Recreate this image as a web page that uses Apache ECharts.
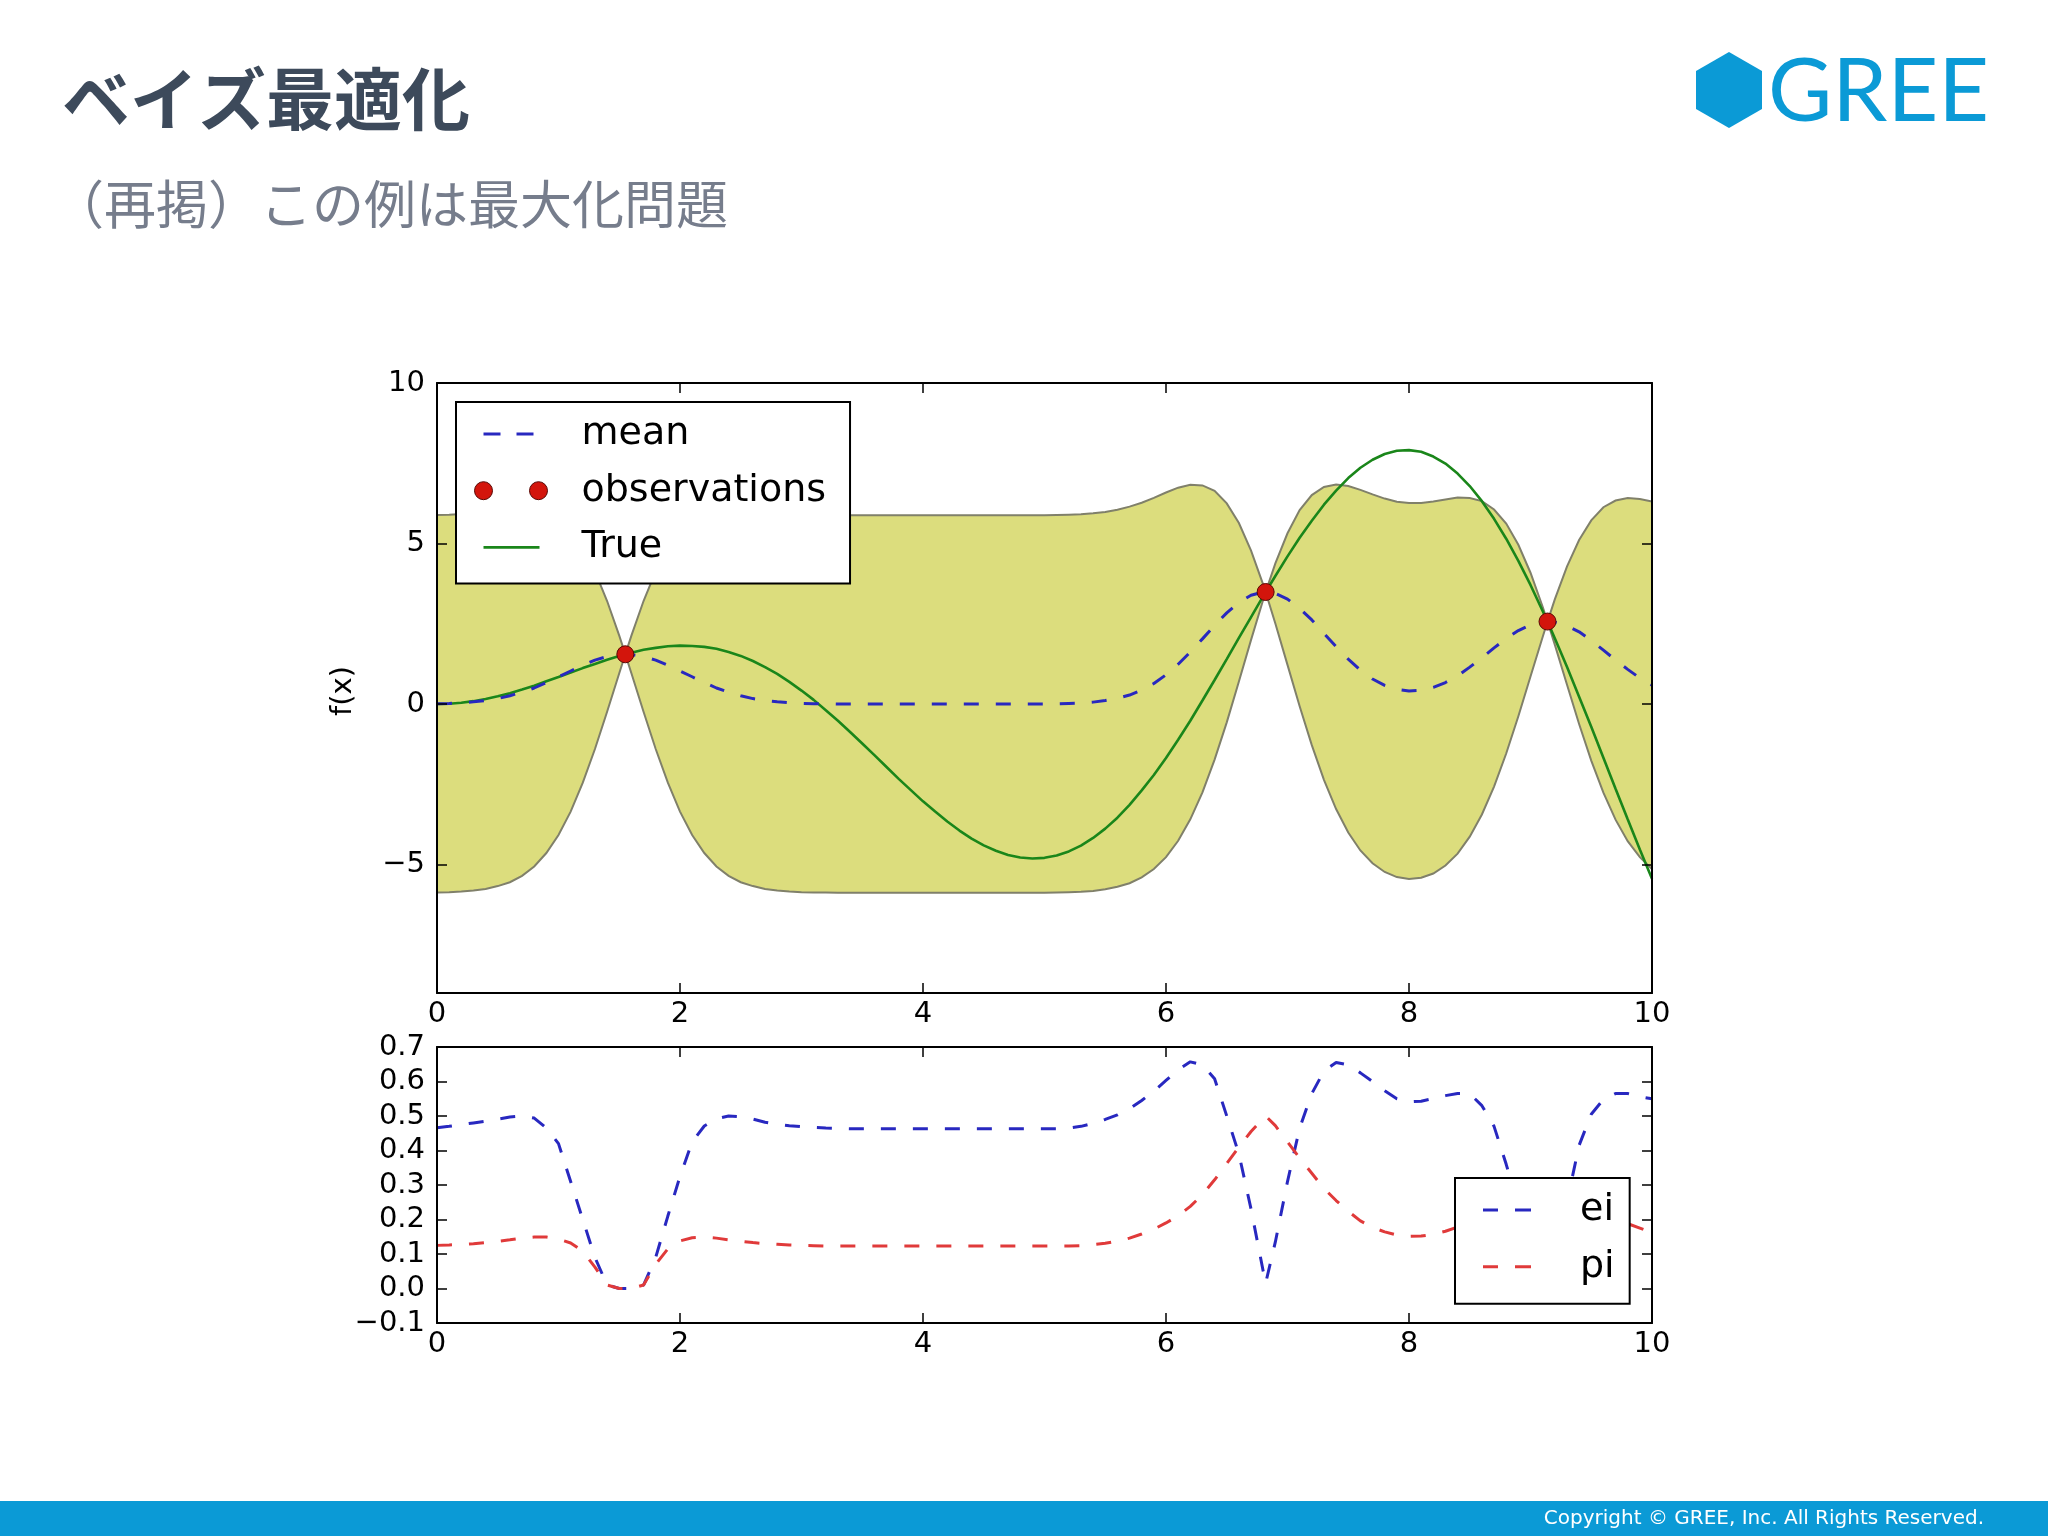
<!DOCTYPE html>
<html>
<head>
<meta charset="utf-8">
<script src="https://cdn.jsdelivr.net/npm/echarts@6/dist/echarts.min.js"></script>
<style>
html,body{margin:0;padding:0;background:#ffffff;}
#chart{width:2048px;height:1536px;}
</style>
</head>
<body>
<div id="chart"></div>
<script>
// ---------- data ----------
const xs = [
  0,0.1,0.2,0.3,0.4,0.5,0.6,0.7,0.8,0.9,1.0,1.1,1.2,1.3,1.4,1.5,
  1.55,
  1.6,1.7,1.8,1.9,2.0,2.1,2.2,2.3,2.4,2.5,2.6,2.7,2.8,2.9,3.0,
  3.1,3.2,3.3,3.4,3.5,3.6,3.7,3.8,3.9,4.0,4.1,4.2,4.3,4.4,4.5,4.6,4.7,4.8,4.9,
  5.0,5.1,5.2,5.3,5.4,5.5,5.6,5.7,5.8,5.9,6.0,6.1,6.2,6.3,6.4,6.5,6.6,6.7,6.8,
  6.82,
  6.9,7.0,7.1,7.2,7.3,7.4,7.5,7.6,7.7,7.8,7.9,8.0,8.1,8.2,8.3,8.4,8.5,8.6,8.7,8.8,8.9,9.0,9.1,
  9.14,
  9.2,9.3,9.4,9.5,9.6,9.7,9.8,9.9,10.0
];
const trueVals = [
  0,0.01,0.04,0.09,0.16,0.24,0.34,0.45,0.57,0.71,0.84,0.98,1.12,1.25,1.38,1.50,
  1.55,
  1.60,1.69,1.75,1.80,1.82,1.81,1.78,1.72,1.62,1.50,1.34,1.15,0.94,0.69,0.42,
  0.13,-0.19,-0.52,-0.87,-1.23,-1.59,-1.96,-2.33,-2.68,-3.03,-3.35,-3.66,-3.94,-4.19,-4.40,-4.57,-4.70,-4.78,-4.81,
  -4.79,-4.72,-4.59,-4.41,-4.17,-3.88,-3.54,-3.14,-2.69,-2.21,-1.68,-1.11,-0.52,0.11,0.75,1.40,2.06,2.71,3.36,
  3.49,
  3.99,4.60,5.18,5.71,6.21,6.65,7.04,7.36,7.61,7.79,7.89,7.91,7.86,7.71,7.49,7.18,6.79,6.32,5.77,5.15,4.46,3.71,2.90,
  2.57,
  2.05,1.16,0.23,-0.71,-1.67,-2.64,-3.59,-4.53,-5.44
];
const meanVals = [
  0.01,0.02,0.04,0.07,0.11,0.17,0.26,0.37,0.50,0.67,0.85,1.03,1.21,1.37,1.48,1.54,
  1.55,
  1.54,1.48,1.37,1.21,1.03,0.85,0.67,0.50,0.37,0.26,0.17,0.11,0.07,0.04,0.02,
  0.01,0.01,0,0,0,0,0,0,0,0,0,0,0,0,0,0,0,0,0,
  0,0.01,0.02,0.03,0.06,0.11,0.18,0.28,0.44,0.64,0.91,1.24,1.62,2.03,2.45,2.84,3.17,3.39,3.49,
  3.49,
  3.45,3.27,2.98,2.62,2.20,1.79,1.40,1.06,0.78,0.58,0.46,0.41,0.43,0.52,0.67,0.88,1.15,1.44,1.75,2.04,2.29,2.47,2.56,
  2.57,
  2.55,2.44,2.25,1.98,1.68,1.37,1.08,0.81,0.59
];
const upperVals = [
  5.89,5.90,5.92,5.94,5.98,6.02,6.06,6.08,6.06,5.98,5.77,5.42,4.87,4.13,3.21,2.13,
  1.55,
  2.13,3.21,4.13,4.87,5.42,5.77,5.98,6.06,6.08,6.06,6.02,5.98,5.94,5.92,5.90,
  5.89,5.89,5.88,5.88,5.88,5.88,5.88,5.88,5.88,5.88,5.88,5.88,5.88,5.88,5.88,5.88,5.88,5.88,5.88,
  5.88,5.89,5.90,5.91,5.94,5.98,6.05,6.15,6.27,6.42,6.59,6.74,6.83,6.81,6.64,6.25,5.64,4.78,3.72,
  3.49,
  4.38,5.32,6.04,6.51,6.76,6.84,6.79,6.67,6.53,6.40,6.30,6.26,6.26,6.31,6.37,6.43,6.42,6.32,6.06,5.62,4.96,4.09,3.03,
  2.57,
  3.26,4.28,5.11,5.72,6.13,6.34,6.42,6.39,6.31
];
const lowerVals = [
  -5.87,-5.86,-5.84,-5.81,-5.76,-5.67,-5.55,-5.35,-5.06,-4.64,-4.08,-3.35,-2.45,-1.40,-0.24,0.96,
  1.55,
  0.96,-0.24,-1.40,-2.45,-3.35,-4.08,-4.64,-5.06,-5.35,-5.55,-5.67,-5.76,-5.81,-5.84,-5.86,
  -5.87,-5.87,-5.88,-5.88,-5.88,-5.88,-5.88,-5.88,-5.88,-5.88,-5.88,-5.88,-5.88,-5.88,-5.88,-5.88,-5.88,-5.88,-5.88,
  -5.88,-5.87,-5.86,-5.85,-5.82,-5.77,-5.69,-5.58,-5.40,-5.14,-4.77,-4.26,-3.59,-2.75,-1.73,-0.57,0.70,2.00,3.25,
  3.49,
  2.51,1.22,-0.07,-1.28,-2.36,-3.27,-4.00,-4.56,-4.96,-5.23,-5.39,-5.45,-5.41,-5.28,-5.03,-4.66,-4.13,-3.44,-2.57,-1.54,-0.38,0.86,2.09,
  2.57,
  1.85,0.61,-0.62,-1.76,-2.76,-3.60,-4.27,-4.77,-5.14
];
const eiVals = [
  0.466,0.470,0.475,0.480,0.485,0.491,0.497,0.500,0.494,0.465,0.420,0.310,0.200,0.090,0.010,0.000,
  0.000,
  0.000,0.010,0.090,0.210,0.325,0.425,0.471,0.492,0.500,0.498,0.491,0.482,0.476,0.472,0.469,
  0.467,0.465,0.464,0.463,0.463,0.463,0.463,0.463,0.463,0.463,0.463,0.463,0.463,0.463,0.463,0.463,0.463,0.463,0.463,
  0.463,0.463,0.465,0.470,0.479,0.490,0.503,0.521,0.545,0.572,0.603,0.634,0.657,0.648,0.608,0.500,0.390,0.230,0.050,
  0.015,
  0.135,0.310,0.465,0.565,0.630,0.655,0.648,0.625,0.600,0.573,0.550,0.541,0.543,0.551,0.559,0.565,0.565,0.530,0.470,0.360,0.240,0.120,0.030,
  0.000,
  0.070,0.250,0.415,0.505,0.548,0.565,0.565,0.556,0.550
];
const piVals = [
  0.125,0.126,0.128,0.130,0.133,0.137,0.141,0.146,0.149,0.149,0.143,0.132,0.108,0.062,0.010,0.000,
  0.000,
  0.000,0.010,0.070,0.115,0.138,0.147,0.149,0.146,0.141,0.137,0.133,0.130,0.128,0.126,0.125,
  0.124,0.123,0.123,0.123,0.123,0.123,0.123,0.123,0.123,0.123,0.123,0.123,0.123,0.123,0.123,0.123,0.123,0.123,0.123,
  0.123,0.123,0.123,0.124,0.127,0.131,0.137,0.146,0.158,0.172,0.190,0.211,0.238,0.272,0.315,0.362,0.410,0.455,0.493,
  0.500,
  0.472,0.425,0.378,0.334,0.290,0.255,0.224,0.196,0.177,0.164,0.155,0.151,0.152,0.157,0.166,0.178,0.192,0.205,0.214,0.214,0.189,0.108,0.000,
  0.000,
  0.005,0.131,0.197,0.215,0.213,0.202,0.188,0.175,0.162
];
const obsX = [1.55, 6.82, 9.14];
const obsY = [1.55, 3.49, 2.57];

const xTicks = [0, 2, 4, 6, 8, 10];
const yTicksTop = [-5, 0, 5, 10];
const yTicksBottom = [-0.1, 0, 0.1, 0.2, 0.3, 0.4, 0.5, 0.6, 0.7];

// ---------- styling ----------
const BLUE = '#2828c0';
const RED = '#e03a3a';
const GREEN = '#1a861a';
const FILL = '#dcdd7d';
const EDGE = '#80806a';
const FONT = 'DejaVu Sans';

function fmt(v, d) {
  return (v < -1e-9 ? '\u2212' : '') + Math.abs(v).toFixed(d);
}
function xAx(grid, pos, show) {
  return {
    type: 'value', gridIndex: grid, position: pos, min: 0, max: 10, interval: 2, z: 10,
    axisLine: { onZero: false, lineStyle: { color: '#000', width: 2 } },
    axisTick: { inside: true, length: 10, customValues: xTicks, lineStyle: { color: '#000', width: 1.5 } },
    axisLabel: { show: show, margin: 7, fontSize: 29, fontFamily: FONT, color: '#000',
      customValues: xTicks, formatter: v => fmt(v, 0), showMinLabel: true, showMaxLabel: true },
    splitLine: { show: false }
  };
}
function yAx(grid, pos, show, mn, mx, ticks, dec) {
  return {
    type: 'value', gridIndex: grid, position: pos, min: mn, max: mx, z: 10,
    axisLine: { onZero: false, lineStyle: { color: '#000', width: 2 } },
    axisTick: { inside: true, length: 10, customValues: ticks, lineStyle: { color: '#000', width: 1.5 } },
    axisLabel: { show: show, margin: 12, fontSize: 29, fontFamily: FONT, color: '#000',
      customValues: ticks, formatter: v => fmt(v, dec) },
    splitLine: { show: false }
  };
}

const speck = 'M0,0h0.01v0.01h-0.01z M72.99,17.99h0.01v0.01h-0.01z ';
const meanIcon = 'path://' + speck + 'M9,7.6h17v2.8h-17z M42,7.6h17v2.8h-17z';
const trueIcon = 'path://' + speck + 'M9,7.7h56v2.6h-56z';
const obsIcon = 'path://M0,9a9,9 0 1,0 18,0a9,9 0 1,0 -18,0z M55,9a9,9 0 1,0 18,0a9,9 0 1,0 -18,0z';
const dashIcon = 'path://M0,0h0.01v0.01h-0.01z M48.99,17.99h0.01v0.01h-0.01z M0,7.5h15v3h-15z M32,7.5h16v3h-16z';

const chart = echarts.init(document.getElementById('chart'), null, { renderer: 'canvas', width: 2048, height: 1536 });

const option = {
  animation: false,
  backgroundColor: '#ffffff',
  textStyle: { fontFamily: FONT },
  grid: [
    { left: 437, top: 383, width: 1215, height: 610 },
    { left: 437, top: 1047, width: 1215, height: 276 }
  ],
  xAxis: [xAx(0, 'bottom', true), xAx(0, 'top', false), xAx(1, 'bottom', true), xAx(1, 'top', false)],
  yAxis: [
    yAx(0, 'left', true, -9, 10, yTicksTop, 0),
    yAx(0, 'right', false, -9, 10, yTicksTop, 0),
    yAx(1, 'left', true, -0.1, 0.7, yTicksBottom, 1),
    yAx(1, 'right', false, -0.1, 0.7, yTicksBottom, 1)
  ],
  legend: [
    {
      left: 456, top: 402, orient: 'vertical', selectedMode: false,
      padding: [12, 24, 16, 18], itemGap: 16.7, itemWidth: 73, itemHeight: 18,
      backgroundColor: '#ffffff', borderColor: '#000', borderWidth: 2, borderRadius: 0,
      textStyle: { fontFamily: FONT, fontSize: 38, color: '#000', lineHeight: 40, padding: [0, 0, 0, 29] },
      data: [
        { name: 'mean', icon: meanIcon, itemStyle: { color: BLUE, borderWidth: 0 } },
        { name: 'observations', icon: obsIcon, itemStyle: { color: '#d3150c', borderColor: '#5a0804', borderWidth: 1 } },
        { name: 'True', icon: trueIcon, itemStyle: { color: GREEN, borderWidth: 0 } }
      ]
    },
    {
      left: 1455, top: 1178, orient: 'vertical', selectedMode: false,
      padding: [12, 15, 17, 28], itemGap: 16.7, itemWidth: 49, itemHeight: 18,
      backgroundColor: '#ffffff', borderColor: '#000', borderWidth: 2, borderRadius: 0,
      textStyle: { fontFamily: FONT, fontSize: 38, color: '#000', lineHeight: 40, padding: [0, 0, 0, 43] },
      data: [
        { name: 'ei', icon: dashIcon, itemStyle: { color: BLUE, borderWidth: 0 } },
        { name: 'pi', icon: dashIcon, itemStyle: { color: RED, borderWidth: 0 } }
      ]
    }
  ],
  series: [
    {
      type: 'custom', name: 'band', xAxisIndex: 0, yAxisIndex: 0, z: 1, silent: true, clip: true,
      data: xs.map((x, i) => [x, lowerVals[i], upperVals[i]]),
      encode: { x: 0, y: [1, 2] },
      renderItem: function (params, api) {
        if (params.dataIndex !== 0) return null;
        const pts = [];
        for (let i = 0; i < xs.length; i++) pts.push(api.coord([xs[i], upperVals[i]]));
        for (let i = xs.length - 1; i >= 0; i--) pts.push(api.coord([xs[i], lowerVals[i]]));
        return { type: 'polygon', shape: { points: pts }, style: { fill: FILL, stroke: EDGE, lineWidth: 2 } };
      }
    },
    {
      type: 'line', name: 'True', xAxisIndex: 0, yAxisIndex: 0, z: 3, symbol: 'none',
      data: xs.map((x, i) => [x, trueVals[i]]),
      lineStyle: { color: GREEN, width: 2.6 }, itemStyle: { color: GREEN }
    },
    {
      type: 'line', name: 'mean', xAxisIndex: 0, yAxisIndex: 0, z: 4, symbol: 'none',
      data: xs.map((x, i) => [x, meanVals[i]]),
      lineStyle: { color: BLUE, width: 3, type: [15, 17] }, itemStyle: { color: BLUE }
    },
    {
      type: 'scatter', name: 'observations', xAxisIndex: 0, yAxisIndex: 0, z: 5,
      data: obsX.map((x, i) => [x, obsY[i]]), symbolSize: 17,
      itemStyle: { color: '#d3150c', borderColor: '#5a0804', borderWidth: 1, opacity: 1 }
    },
    {
      type: 'line', name: 'ei', xAxisIndex: 2, yAxisIndex: 2, z: 3, symbol: 'none',
      data: xs.map((x, i) => [x, eiVals[i]]),
      lineStyle: { color: BLUE, width: 3, type: [15, 17] }, itemStyle: { color: BLUE }
    },
    {
      type: 'line', name: 'pi', xAxisIndex: 2, yAxisIndex: 2, z: 3, symbol: 'none',
      data: xs.map((x, i) => [x, piVals[i]]),
      lineStyle: { color: RED, width: 3, type: [15, 17] }, itemStyle: { color: RED }
    }
  ],
  graphic: [
    { type: 'text', x: 62, y: 99, z: 100,
      style: { text: 'ベイズ最適化', fontSize: 68, fontWeight: 'bold', fontFamily: 'Noto Sans CJK JP',
        fill: '#3d4a5b', verticalAlign: 'middle', align: 'left' } },
    { type: 'text', x: 52, y: 204, z: 100,
      style: { text: '（再掲）この例は最大化問題', fontSize: 52, fontFamily: 'Noto Sans CJK JP',
        fill: '#767d8c', verticalAlign: 'middle', align: 'left' } },
    { type: 'polygon', z: 100,
      shape: { points: [[1729, 52], [1762, 71], [1762, 109], [1729, 128], [1696, 109], [1696, 71]] },
      style: { fill: '#0b9ad6' } },
    { type: 'text', x: 1768, y: 93, z: 100,
      style: { text: 'GREE', fontSize: 88, fontFamily: 'Lato', fill: '#0b9ad6', verticalAlign: 'middle', align: 'left' } },
    { type: 'text', x: 343, y: 691, rotation: Math.PI / 2, z: 100,
      style: { text: 'f(x)', fontSize: 29, fontFamily: FONT, fill: '#000', align: 'center', verticalAlign: 'middle' } },
    { type: 'rect', z: 100, shape: { x: 0, y: 1501, width: 2048, height: 35 }, style: { fill: '#0b9ad6' } },
    { type: 'text', x: 1984, y: 1519, z: 101,
      style: { text: 'Copyright © GREE, Inc. All Rights Reserved.', fontSize: 20, fontFamily: FONT,
        fill: '#ffffff', align: 'right', verticalAlign: 'middle' } }
  ]
};
chart.setOption(option);
</script>
</body>
</html>
